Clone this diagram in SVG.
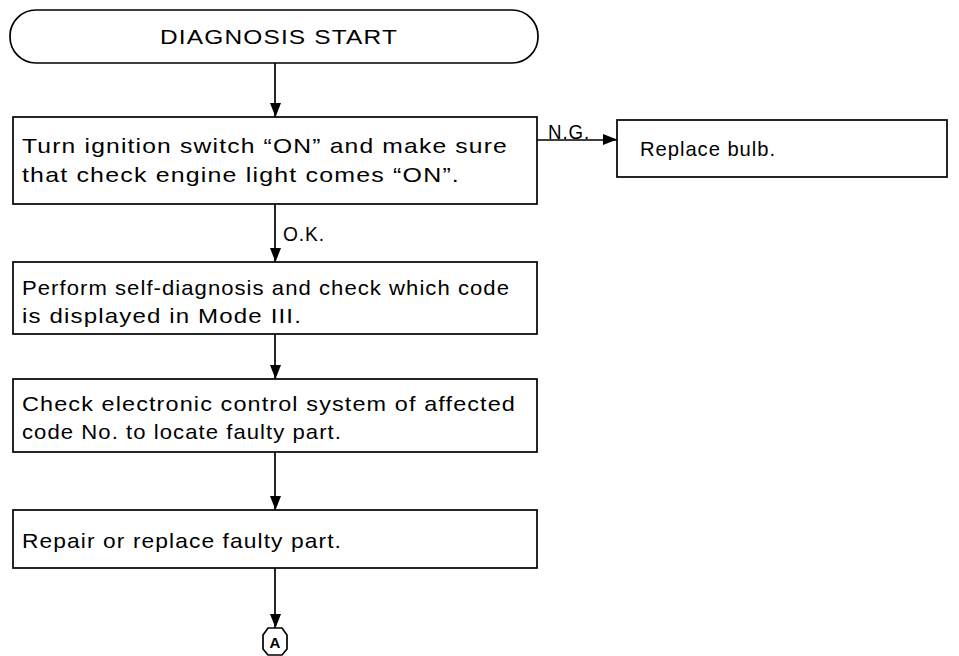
<svg xmlns="http://www.w3.org/2000/svg" width="959" height="656" viewBox="0 0 959 656">
<defs>
<marker id="ah" markerWidth="14" markerHeight="12" refX="14" refY="6" orient="auto" markerUnits="userSpaceOnUse">
<path d="M0,0 L14,5.5 L0,11 Z" fill="#000"/>
</marker>
<style>
.box{fill:#fff;stroke:#000;stroke-width:1.7}
.t{font-family:"Liberation Sans",Arial,sans-serif;font-size:21px;fill:#000;letter-spacing:1px}
.ln{stroke:#000;stroke-width:1.7;fill:none}
</style>
</defs>
<rect width="959" height="656" fill="#fff"/>
<g id="connectors">
<line class="ln" x1="275" y1="63" x2="275" y2="117" marker-end="url(#ah)"/>
<line class="ln" x1="537" y1="140" x2="617" y2="140" marker-end="url(#ah)"/>
<line class="ln" x1="275" y1="204" x2="275" y2="262" marker-end="url(#ah)"/>
<line class="ln" x1="275" y1="334" x2="275" y2="379" marker-end="url(#ah)"/>
<line class="ln" x1="275" y1="452" x2="275" y2="510" marker-end="url(#ah)"/>
<line class="ln" x1="275" y1="568" x2="275" y2="628" marker-end="url(#ah)"/>
<text class="t" x="548" y="139" textLength="42" lengthAdjust="spacingAndGlyphs">N.G.</text>
<text class="t" x="283" y="241" textLength="42" lengthAdjust="spacingAndGlyphs">O.K.</text>
</g>
<g id="start">
<rect class="box" x="10" y="10" width="528" height="53" rx="26" ry="26"/>
<text class="t" x="160" y="44" textLength="238" lengthAdjust="spacingAndGlyphs">DIAGNOSIS START</text>
</g>
<g id="step1">
<rect class="box" x="13" y="117" width="524" height="87"/>
<text class="t" x="22" y="153" textLength="486" lengthAdjust="spacingAndGlyphs">Turn ignition switch “ON” and make sure</text>
<text class="t" x="22" y="182" textLength="438" lengthAdjust="spacingAndGlyphs">that check engine light comes “ON”.</text>
</g>
<g id="bulb">
<rect class="box" x="617" y="120" width="330" height="57"/>
<text class="t" x="640" y="156" textLength="136" lengthAdjust="spacingAndGlyphs">Replace bulb.</text>
</g>
<g id="step2">
<rect class="box" x="13" y="262" width="524" height="72"/>
<text class="t" x="22" y="295" textLength="488" lengthAdjust="spacingAndGlyphs">Perform self-diagnosis and check which code</text>
<text class="t" x="22" y="323" textLength="280" lengthAdjust="spacingAndGlyphs">is displayed in Mode III.</text>
</g>
<g id="step3">
<rect class="box" x="13" y="379" width="524" height="73"/>
<text class="t" x="22" y="411" textLength="494" lengthAdjust="spacingAndGlyphs">Check electronic control system of affected</text>
<text class="t" x="22" y="439" textLength="320" lengthAdjust="spacingAndGlyphs">code No. to locate faulty part.</text>
</g>
<g id="step4">
<rect class="box" x="13" y="510" width="524" height="58"/>
<text class="t" x="22" y="548" textLength="320" lengthAdjust="spacingAndGlyphs">Repair or replace faulty part.</text>
</g>
<g id="connA">
<path class="box" d="M268,628 L282,628 L287,635 L287,649 L282,655 L268,655 L263,649 L263,635 Z" stroke-width="1.3"/>
<text x="275" y="648" text-anchor="middle" style="font-family:'Liberation Sans',Arial,sans-serif;font-weight:bold;font-size:15px">A</text>
</g>
</svg>
